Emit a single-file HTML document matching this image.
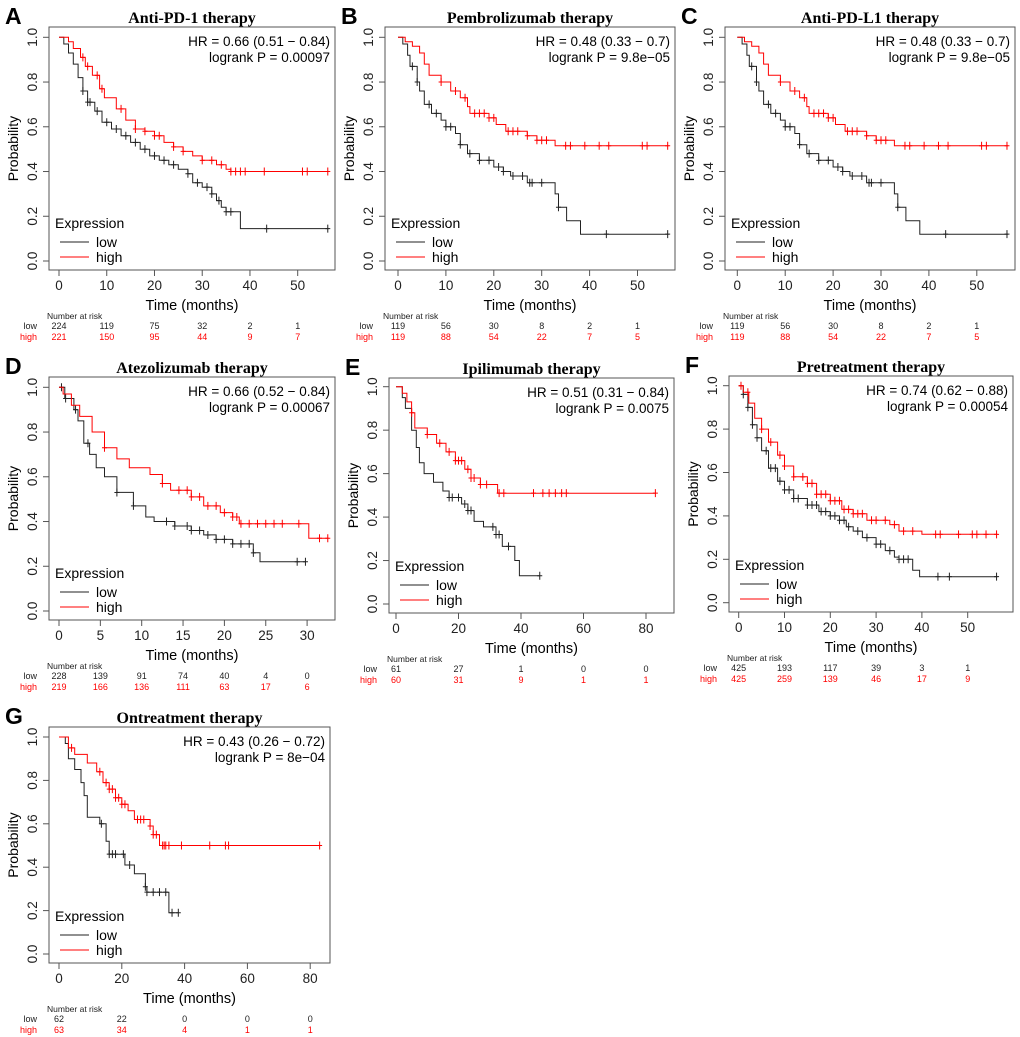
<!DOCTYPE html>
<html><head><meta charset="utf-8">
<style>
html,body{margin:0;padding:0;background:#fff;}
svg{display:block;font-family:"Liberation Sans",Arial,sans-serif;}
</style></head>
<body>
<svg id="fig" width="1020" height="1037" viewBox="0 0 1020 1037" xmlns="http://www.w3.org/2000/svg"></svg>
<script>
// ---- data arrays: step points [time, survival] (last = end of follow-up) ----
const lowA=[[1,0.97],[2,0.93],[3,0.88],[4,0.82],[5,0.76],[6,0.71],[7.5,0.67],[9,0.62],[11,0.59],[13,0.56],[15,0.53],[17,0.5],[19,0.47],[21,0.45],[23,0.43],[25,0.41],[27,0.39],[28,0.35],[30,0.33],[32,0.3],[33,0.27],[34,0.24],[35,0.22],[38,0.145],[56.5,0.145]];
const highA=[[2,0.98],[3,0.95],[4.5,0.91],[5.5,0.87],[7,0.83],[8.5,0.77],[9.5,0.73],[12,0.68],[14,0.63],[16,0.59],[18,0.58],[20,0.56],[22,0.53],[24,0.51],[26,0.49],[28,0.47],[30,0.45],[33,0.43],[35,0.41],[36,0.4],[56.5,0.4]];
const cenLowA=[5,6,6.5,8,10,12,14,16,18,20,22,24,27,29,31,32,33.5,35,36,43.5,56.3];
const cenHighA=[5,6,8,9,13,16,18,20,21,24,26,30,32,34,36,37,38,39,43,51,52,56.3];
const lowB=[[1,0.97],[2,0.92],[2.5,0.87],[4,0.8],[4.5,0.76],[5.5,0.7],[7,0.66],[9,0.63],[10,0.6],[12,0.57],[13,0.52],[14.5,0.48],[17,0.45],[20,0.42],[22,0.4],[23.5,0.38],[27,0.35],[32.8,0.3],[33.5,0.24],[35.2,0.18],[38.1,0.12],[56.5,0.12]];
const highB=[[1.5,0.98],[3,0.96],[4.5,0.93],[5.5,0.88],[6.5,0.83],[9,0.8],[11,0.76],[13,0.73],[14.5,0.69],[15,0.66],[19,0.64],[20.5,0.61],[22.5,0.58],[27,0.56],[29,0.54],[32.8,0.515],[56.5,0.515]];
const cenLowB=[3,4,6.5,8,10,11,13,15,17,19,21,22,24,26,27.5,28,30,33.5,43.5,56.3];
const cenHighB=[9,12,14,16,17,18,19,20,23,24,25,27,29,30,31,35,36,39,42,44,51,52,56.3];
const lowD=[[0.7,0.95],[1.8,0.9],[2.3,0.85],[3,0.75],[3.7,0.7],[4.5,0.64],[5.5,0.6],[7,0.53],[9,0.47],[10.5,0.42],[11.5,0.4],[14,0.38],[16,0.36],[17.5,0.34],[19,0.32],[21,0.3],[23.5,0.26],[24.3,0.22],[29.8,0.22]];
const highD=[[0.5,0.97],[1.5,0.92],[2.5,0.87],[4,0.8],[5.5,0.73],[7,0.68],[8.5,0.64],[11,0.61],[12.5,0.57],[13.5,0.54],[16,0.51],[17.5,0.47],[19.5,0.44],[21,0.42],[21.8,0.39],[30.2,0.325],[32.6,0.325]];
const cenLowD=[0.3,0.8,2,3.5,7,9,13,14,15.5,16,17,18,19,20,21,22,23,23.5,28.8,29.8];
const cenHighD=[5.5,12.5,14.5,15.5,16,17,18,19,20,21,21.5,22,23,24,25,26,27,29,31.5,32.5];
const lowE=[[2,0.95],[3,0.9],[5,0.8],[6.5,0.72],[7.5,0.65],[9,0.6],[12,0.56],[15,0.52],[17,0.49],[21,0.46],[23,0.43],[25,0.38],[28,0.355],[32,0.32],[34,0.265],[38,0.2],[39.5,0.13],[46,0.13]];
const highE=[[2,0.97],[3.5,0.93],[5,0.88],[6,0.81],[10,0.78],[13,0.74],[16,0.7],[19,0.66],[22,0.62],[24,0.58],[27,0.55],[32.5,0.51],[83,0.51]];
const cenLowE=[17,18,20,22,23,24,31,32,33,36,46];
const cenHighE=[5,10,14,17,19,20,21,23,24,25,27,29,33,34.5,44,47,49,51,53,54.5,83];
const lowF=[[1,0.96],[2,0.9],[3,0.82],[4,0.76],[5,0.7],[6.5,0.62],[8.5,0.56],[10,0.52],[12,0.48],[15,0.45],[17.5,0.42],[20,0.4],[22,0.38],[23.5,0.35],[25,0.33],[27,0.3],[30,0.27],[32,0.24],[34,0.21],[35,0.2],[38,0.15],[39.5,0.12],[56.5,0.12]];
const highF=[[1,0.97],[2.2,0.92],[3.5,0.85],[5,0.8],[6.5,0.74],[8.5,0.68],[10,0.63],[12,0.58],[15,0.55],[17,0.5],[20,0.47],[22.5,0.43],[25,0.41],[28,0.38],[33,0.36],[35,0.33],[40,0.315],[56.5,0.315]];
const cenLowF=[1,2,3,4,6,7,8,9,10,11,12,13,15,16,17,18,19,20,21,22,23,24,26,28,30,31,33,35,36,37,43.5,46,56.3];
const cenHighF=[0.5,2,5,7,9,10,12,14,15,16,17,18,19,20,21,22,23,24,25,26,27,29,30,32,34,36,38,43,44,48,51,52,54,56.3];
const lowG=[[2,0.97],[3,0.9],[5,0.85],[7,0.79],[8,0.73],[9,0.63],[13,0.6],[15,0.52],[16,0.46],[21,0.41],[24,0.37],[27.5,0.31],[28,0.285],[35,0.19],[38,0.19]];
const highG=[[3,0.95],[5,0.92],[9,0.88],[12,0.84],[14,0.79],[16,0.76],[18,0.72],[20,0.69],[22,0.66],[24,0.62],[29,0.59],[30,0.55],[32,0.5],[83,0.5]];
const cenLowG=[13.5,16,17,18,20.5,22.5,27.5,28,30,32,34,36,38];
const cenHighG=[4,13,15,16,17,18,19,20,21,25,26,27,29,30,31,33,33.5,34,35,39,48,53,54,83];
// risk tables
const riskA_low=[224,119,75,32,2,1], riskA_high=[221,150,95,44,9,7];
const riskB_low=[119,56,30,8,2,1], riskB_high=[119,88,54,22,7,5];
const riskD_low=[228,139,91,74,40,4,0], riskD_high=[219,166,136,111,63,17,6];
const riskE_low=[61,27,1,0,0], riskE_high=[60,31,9,1,1];
const riskF_low=[425,193,117,39,3,1], riskF_high=[425,259,139,46,17,9];
const riskG_low=[62,22,0,0,0], riskG_high=[63,34,4,1,1];
const ticks50=[0,10,20,30,40,50], ticks30=[0,5,10,15,20,25,30], ticks80=[0,20,40,60,80];
const yTicks=[0,0.2,0.4,0.6,0.8,1.0];

const panels=[
 {id:'a',letter:'A',title:'Anti-PD-1 therapy',box:[49,27,335,270],x0:59,px:4.774,y1:37.3,y0:261,ticks:ticks50,hr:'HR = 0.66 (0.51 − 0.84)',p:'logrank P = 0.00097',low:lowA,high:highA,cl:cenLowA,ch:cenHighA,rl:riskA_low,rh:riskA_high},
 {id:'b',letter:'B',title:'Pembrolizumab therapy',box:[385,27,675,270],x0:398,px:4.79,y1:37.3,y0:261,ticks:ticks50,hr:'HR = 0.48 (0.33 − 0.7)',p:'logrank P = 9.8e−05',low:lowB,high:highB,cl:cenLowB,ch:cenHighB,rl:riskB_low,rh:riskB_high},
 {id:'c',letter:'C',title:'Anti-PD-L1 therapy',box:[725,27,1015,270],x0:737.3,px:4.79,y1:37.3,y0:261,ticks:ticks50,hr:'HR = 0.48 (0.33 − 0.7)',p:'logrank P = 9.8e−05',low:lowB,high:highB,cl:cenLowB,ch:cenHighB,rl:riskB_low,rh:riskB_high},
 {id:'d',letter:'D',title:'Atezolizumab therapy',box:[49,377,335,620],x0:59,px:8.27,y1:387.3,y0:611,ticks:ticks30,hr:'HR = 0.66 (0.52 − 0.84)',p:'logrank P = 0.00067',low:lowD,high:highD,cl:cenLowD,ch:cenHighD,rl:riskD_low,rh:riskD_high},
 {id:'e',letter:'E',title:'Ipilimumab therapy',box:[389,378,674,613],x0:396,px:3.125,y1:386.7,y0:604,ticks:ticks80,hr:'HR = 0.51 (0.31 − 0.84)',p:'logrank P = 0.0075',low:lowE,high:highE,cl:cenLowE,ch:cenHighE,rl:riskE_low,rh:riskE_high},
 {id:'f',letter:'F',title:'Pretreatment therapy',box:[729,376,1013,612],x0:738.7,px:4.58,y1:385.7,y0:602.7,ticks:ticks50,hr:'HR = 0.74 (0.62 − 0.88)',p:'logrank P = 0.00054',low:lowF,high:highF,cl:cenLowF,ch:cenHighF,rl:riskF_low,rh:riskF_high},
 {id:'g',letter:'G',title:'Ontreatment therapy',box:[49,727,330,963],x0:59,px:3.14,y1:737,y0:954,ticks:ticks80,hr:'HR = 0.43 (0.26 − 0.72)',p:'logrank P = 8e−04',low:lowG,high:highG,cl:cenLowG,ch:cenHighG,rl:riskG_low,rh:riskG_high}
];

const NS='http://www.w3.org/2000/svg';
const svg=document.getElementById('fig');
function mk(tag,attrs,parent,txt){const e=document.createElementNS(NS,tag);for(const k in attrs)e.setAttribute(k,attrs[k]);if(txt!==undefined)e.textContent=txt;parent.appendChild(e);return e;}
function survAt(curve,t){let s=1;for(const [ct,cs] of curve){if(ct<=t)s=cs;else break;}return s;}

panels.forEach(P=>{
 const [L,T,R,B]=P.box;
 const X=t=>P.x0+t*P.px;
 const Y=s=>P.y0+(P.y1-P.y0)*s;
 const g=mk('g',{},svg);
 
 
 const lt=mk('text',{x:L-44,y:T-3,'font-size':23,'font-weight':'bold',fill:'#000'},g,P.letter);
 
 
 const tt=mk('text',{x:(L+R)/2,y:T-4,'text-anchor':'middle','font-size':16,'font-weight':'bold','font-family':'"Liberation Serif",serif'},g,P.title);
 
 
 const bx=mk('rect',{x:L,y:T,width:R-L,height:B-T,fill:'none',stroke:'#555','stroke-width':1},g);
 
 
 yTicks.forEach(v=>{
  mk('line',{x1:L,x2:L-6,y1:Y(v),y2:Y(v),stroke:'#555'},g);
  const t=mk('text',{x:0,y:0,transform:`translate(${L-12},${Y(v)}) rotate(-90)`,'text-anchor':'middle','font-size':13.5,fill:'#222'},g,v.toFixed(1));
  
  
 });
 const yl=mk('text',{x:0,y:0,transform:`translate(${L-31},${(T+B)/2}) rotate(-90)`,'text-anchor':'middle','font-size':14},g,'Probability');
 
 
 P.ticks.forEach(v=>{
  mk('line',{x1:X(v),x2:X(v),y1:B,y2:B+6,stroke:'#555'},g);
  const t=mk('text',{x:X(v),y:B+20,'text-anchor':'middle','font-size':13.5,fill:'#222'},g,String(v));
  
  
 });
 const xl=mk('text',{x:(L+R)/2,y:B+40,'text-anchor':'middle','font-size':14.5},g,'Time (months)');
 
 
 const h1=mk('text',{x:R-5,y:T+19,'text-anchor':'end','font-size':13.5},g,P.hr);
 
 
 const h2=mk('text',{x:R-5,y:T+35,'text-anchor':'end','font-size':13.5},g,P.p);
 
 
 [[P.low,P.cl,'#222','low'],[P.high,P.ch,'#f00','high']].forEach(([c,cens,col,nm])=>{
  let d=`M${X(0)},${Y(1)}`;
  c.forEach(([t,s])=>{d+=` H${X(t).toFixed(1)} V${Y(s).toFixed(1)}`;});
  const last=c[c.length-1];d+=` H${X(last[0]).toFixed(1)}`;
  const p=mk('path',{d:d,fill:'none',stroke:col,'stroke-width':1},g);
  
  
  cens.forEach(t=>{
   const cx=X(t),cy=Y(survAt(c,t));
   const m=mk('path',{d:`M${cx},${cy-4}V${cy+4}M${cx-2.5},${cy}H${cx+2.5}`,stroke:col,'stroke-width':1,fill:'none'},g);
   
   
  });
 });
 const le=mk('text',{x:L+6,y:B-42,'font-size':14},g,'Expression');
 
 
 [['low','#222',B-28],['high','#f00',B-13]].forEach(([n,col,yy])=>{
  mk('line',{x1:L+11,x2:L+40,y1:yy,y2:yy,stroke:col},g);
  const t=mk('text',{x:L+47,y:yy+5,'font-size':14},g,n);
  
  
 });
 const nr=mk('text',{x:L-2,y:B+49,'font-size':8.5,fill:'#222'},g,'Number at risk');
 
 
 [['low',P.rl,'#222',B+59],['high',P.rh,'#f00',B+70]].forEach(([n,vals,col,yy])=>{
  const lb=mk('text',{x:L-12,y:yy,'text-anchor':'end','font-size':9,fill:col},g,n);
  
  
  vals.forEach((v,i)=>{
   const t=mk('text',{x:X(P.ticks[i]),y:yy,'text-anchor':'middle','font-size':9,fill:col},g,String(v));
   
   
  });
 });
});
</script>
</body></html>
